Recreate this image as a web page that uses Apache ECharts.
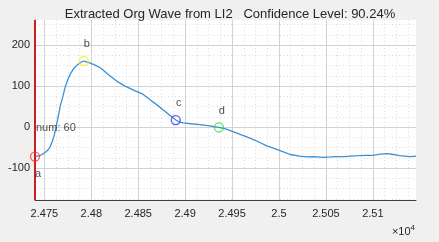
<!DOCTYPE html>
<html>
<head>
<meta charset="utf-8">
<script src="https://cdn.jsdelivr.net/npm/echarts@6/dist/echarts.min.js"></script>
<style>
  html, body { margin: 0; padding: 0; background: #f0f0f0; }
  #chart { width: 439px; height: 242px; }
</style>
</head>
<body>
<div id="chart"></div>
<script>
// sample index vs amplitude
var sampleX = [24740, 24745, 24749, 24753, 24756, 24758, 24760, 24762, 24764, 24767,
  24770, 24772, 24775, 24778, 24781, 24785, 24789, 24792, 24795, 24799,
  24804, 24810, 24818, 24827, 24835, 24845, 24855, 24863, 24870, 24877,
  24884, 24890, 24894, 24898, 24906, 24916, 24926, 24936, 24944, 24951,
  24960, 24969, 24978, 24987, 24997, 25004, 25012, 25022, 25030, 25038,
  25047, 25055, 25062, 25070, 25076, 25085, 25093, 25100, 25108, 25115,
  25122, 25128, 25134, 25140, 25146];
var waveY = [-72, -70, -65, -58, -49, -38, -24, -6, 17, 52,
  77, 96, 116, 131, 142, 151, 158, 161, 159, 156,
  151, 144, 128, 112, 101, 90, 80, 66, 54, 41,
  28, 17, 12, 10, 8, 6, 3, -1, -5, -11,
  -19, -27, -36, -46, -54, -60, -67, -71, -73, -72,
  -74, -73, -72, -72, -71, -70, -69, -69, -66, -65,
  -67, -70, -71, -72, -71];

// feature points
var pointNames = ['a', 'b', 'c', 'd'];
var pointX = [24740, 24792, 24890, 24936];
var pointY = [-72, 161, 17, -1];
var pointColors = ['#ff3030', '#f0f020', '#3030ff', '#30e030'];

var xTicks = [24750, 24800, 24850, 24900, 24950, 25000, 25050, 25100];
var yTicks = [-100, 0, 100, 200];
var xRange = [24740, 25146];
var yRange = [-178, 261];

var title = 'Extracted Org Wave from LI2   Confidence Level: 90.24%';
var numLabel = 'num: 60';

// minor grid positions (4 subdivisions between major ticks)
var xMinor = [], yMinor = [];
for (var v = xTicks[0]; v <= xRange[1]; v += 12.5) xMinor.push(v);
for (var w = -175; w <= yRange[1]; w += 25) yMinor.push(w);

var chart = echarts.init(document.getElementById('chart'), null, { renderer: 'canvas' });

var txt = '#262626';
var font = 'Liberation Sans';

var markerData = pointNames.map(function (n, i) {
  return {
    name: n,
    value: [pointX[i], pointY[i]],
    itemStyle: { borderColor: pointColors[i] },
    label: i === 0 ? { show: false } : undefined
  };
});

// major grid lines as mark lines
var majorGrid = xTicks.map(function (t) { return { xAxis: t }; })
  .concat(yTicks.map(function (t) { return { yAxis: t }; }));

var option = {
  backgroundColor: '#f0f0f0',
  animation: false,
  textStyle: { fontFamily: font },
  title: {
    text: title,
    left: 225, textAlign: 'center', top: 3,
    textStyle: { fontSize: 13, fontWeight: 'normal', color: txt, fontFamily: font }
  },
  grid: {
    left: 35, right: 23, top: 20, bottom: 42,
    show: true, backgroundColor: '#ffffff', borderWidth: 0
  },
  xAxis: [{
    type: 'value', min: xRange[0], max: xRange[1], position: 'bottom',
    axisLine: { show: true, onZero: false, lineStyle: { color: '#404040', width: 1 } },
    axisTick: { show: true, inside: true, length: 3, customValues: xTicks, lineStyle: { color: '#404040' } },
    axisLabel: {
      customValues: xTicks, color: txt, fontSize: 11, margin: 8,
      formatter: function (v) { return String(v / 10000); }
    },
    splitLine: { show: false }
  }, {
    type: 'value', min: xRange[0], max: xRange[1], position: 'bottom',
    axisLine: { show: false }, axisLabel: { show: false },
    axisTick: { show: false, customValues: xMinor },
    splitLine: { show: true, lineStyle: { color: '#dcdcdc', type: [1, 2.5], width: 1 } }
  }],
  yAxis: [{
    type: 'value', min: yRange[0], max: yRange[1], position: 'left',
    axisLine: { show: true, onZero: false, lineStyle: { color: '#404040', width: 1 } },
    axisTick: { show: true, inside: true, length: 3, customValues: yTicks, lineStyle: { color: '#404040' } },
    axisLabel: { customValues: yTicks, color: txt, fontSize: 11, margin: 5 },
    splitLine: { show: false }
  }, {
    type: 'value', min: yRange[0], max: yRange[1], position: 'left',
    axisLine: { show: false }, axisLabel: { show: false },
    axisTick: { show: false, customValues: yMinor },
    splitLine: { show: true, lineStyle: { color: '#dcdcdc', type: [1, 2.5], width: 1 } }
  }],
  series: [{
    type: 'line',
    xAxisIndex: 0, yAxisIndex: 0,
    data: sampleX.map(function (x, i) { return [x, waveY[i]]; }),
    lineStyle: { opacity: 0 },
    showSymbol: false,
    silent: true,
    z: 1,
    markLine: {
      z: 1, silent: true, symbol: 'none', animation: false,
      label: { show: false },
      lineStyle: { color: '#d2d2d2', width: 1, type: 'solid' },
      emphasis: { disabled: true },
      data: majorGrid
    }
  }, {
    type: 'line',
    xAxisIndex: 0, yAxisIndex: 0,
    data: sampleX.map(function (x, i) { return [x, waveY[i]]; }),
    showSymbol: false,
    smooth: false,
    lineStyle: { color: '#3b8fd4', width: 1.3 },
    markLine: {
      silent: true, symbol: 'none',
      label: { show: false },
      lineStyle: { color: '#c8201c', width: 2, type: 'solid' },
      data: [{ xAxis: pointX[0] }]
    },
    z: 3
  }, {
    type: 'scatter',
    xAxisIndex: 0, yAxisIndex: 0,
    data: markerData,
    symbol: 'circle', symbolSize: 9,
    itemStyle: { color: 'rgba(0,0,0,0)', borderWidth: 1.3 },
    label: {
      show: true, color: '#222', fontSize: 11,
      formatter: function (p) { return p.name; },
      position: 'top', distance: 6, offset: [3, 0]
    },
    z: 5
  }, {
    type: 'scatter',
    xAxisIndex: 0, yAxisIndex: 0,
    data: [{ name: pointNames[0], value: [pointX[0], pointY[0]] }],
    symbolSize: 0,
    label: {
      show: true, color: '#222', fontSize: 11,
      position: 'bottom', distance: 12, offset: [3, 0],
      formatter: function (p) { return p.name; }
    },
    z: 5
  }, {
    type: 'scatter',
    xAxisIndex: 0, yAxisIndex: 0,
    data: [{ name: numLabel, value: [pointX[0], pointY[0]] }],
    symbolSize: 0,
    label: {
      show: true, color: '#222', fontSize: 11,
      position: 'right', offset: [-4, -29],
      formatter: function (p) { return p.name; }
    },
    z: 5
  }],
  graphic: [{
    type: 'text', right: 24, bottom: 5,
    style: {
      text: '×10{s|4}', fill: txt, fontSize: 11, fontFamily: font,
      rich: { s: { fontSize: 8, verticalAlign: 'top', padding: [0, 0, 8, 0], fill: txt } }
    }
  }]
};

chart.setOption(option);
</script>
</body>
</html>
